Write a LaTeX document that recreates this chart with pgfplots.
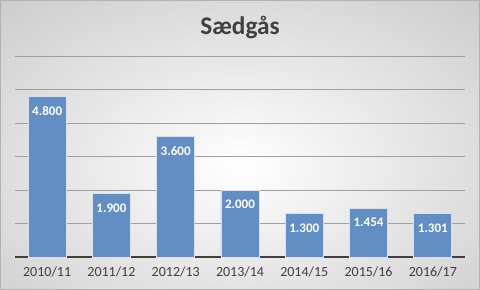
\documentclass[border=0pt]{standalone}
\usepackage{pgfplots}
\pgfplotsset{compat=1.18}
\usepackage{fontspec}
\setmainfont{Carlito}
\definecolor{barblue}{RGB}{98,142,196}
\definecolor{txt}{RGB}{64,64,64}
\definecolor{gridc}{RGB}{160,160,160}
\begin{document}
\begin{tikzpicture}[x=0.75pt,y=0.75pt]
\useasboundingbox (0,0) rectangle (480,290);
\begin{scope}
\clip (0,0) rectangle (480,290);
\shade[inner color=white, outer color=black!19] (-100,-90) rectangle (580,340);
\end{scope}
\draw[black!30, line width=0.75pt] (0.5,0.5) rectangle (479.5,289.5);
\node[font=\bfseries\fontsize{19}{20}\selectfont, text=txt] at (240,263) {Sædgås};
\begin{axis}[
  at={(11.25pt,24.75pt)}, anchor=south west,
  scale only axis, width=337.5pt, height=150.75pt,
  xmin=-0.5, xmax=6.5, ymin=0, ymax=6000,
  axis line style={draw=none},
  xtick=data,
  xticklabels={2010/11,2011/12,2012/13,2013/14,2014/15,2015/16,2016/17},
  xticklabel style={font=\fontsize{10.5}{12}\selectfont, text=txt, yshift=-3.5pt},
  ytick={1000,2000,...,6000},
  yticklabels={},
  major tick length=0pt,
  ymajorgrids,
  grid style={gridc, line width=0.75pt},
  extra y ticks={0},
  extra y tick labels={},
  extra y tick style={grid style={txt, line width=1.6pt}},
  /pgf/number format/assume math mode=true,
  ybar, bar width=28.5pt,
  nodes near coords={\pgfmathprintnumber[fixed,precision=0,1000 sep={.}]{\pgfplotspointmeta}},
  nodes near coords style={anchor=north, text=white, font=\bfseries\fontsize{9.8}{11}\selectfont, yshift=-4pt},
  clip=false,
]
\addplot[fill=barblue, draw=white!75!barblue, line width=0.6pt] coordinates {
(0,4800) (1,1900) (2,3600) (3,2000) (4,1300) (5,1454) (6,1301)};
\end{axis}
\end{tikzpicture}
\end{document}
